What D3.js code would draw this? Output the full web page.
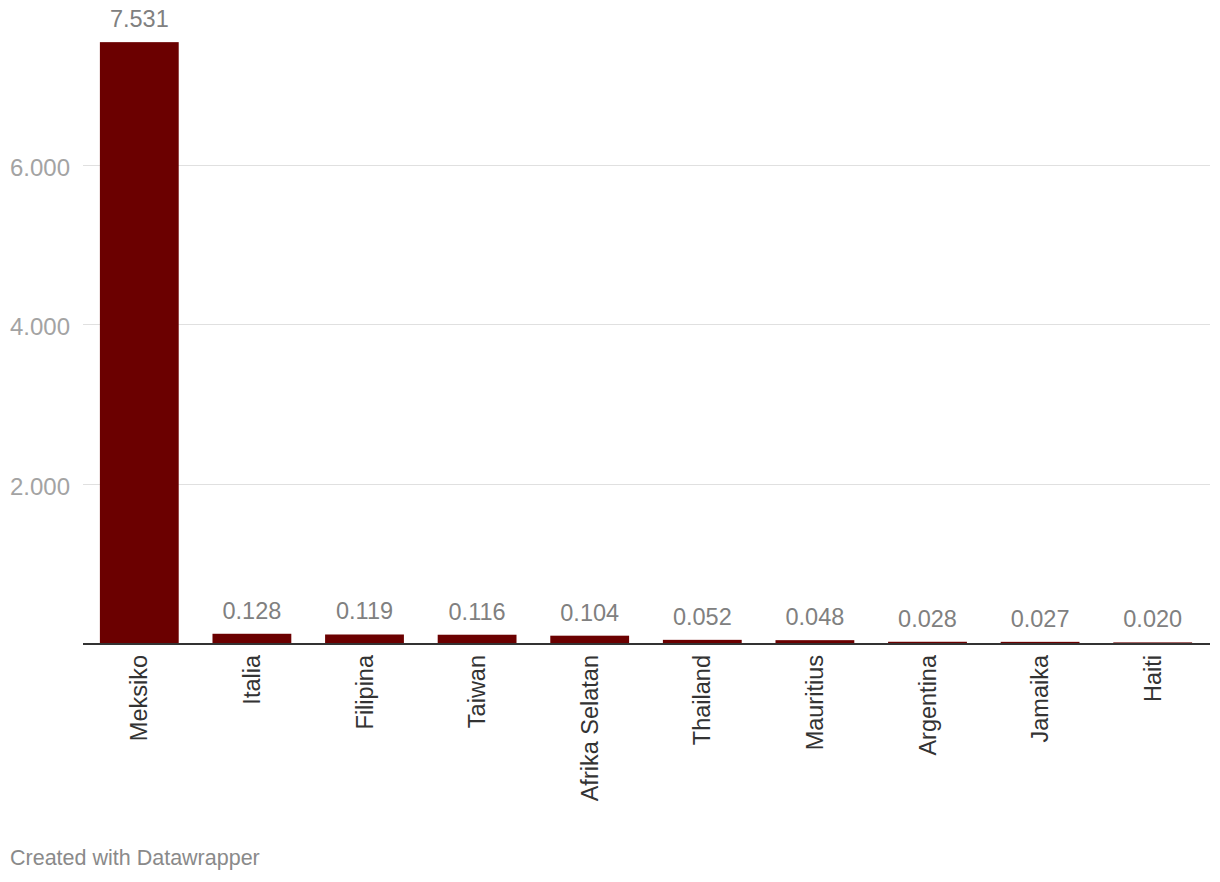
<!DOCTYPE html>
<html>
<head>
<meta charset="utf-8">
<script src="https://cdn.jsdelivr.net/npm/d3@7"></script>
<style>
  html, body { margin: 0; padding: 0; background: #fff; }
  svg { display: block; font-family: "Liberation Sans", Arial, Helvetica, sans-serif; }
</style>
</head>
<body>
<svg id="chart" width="1220" height="882"></svg>
<script>
const categories = ["Meksiko", "Italia", "Filipina", "Taiwan", "Afrika Selatan", "Thailand", "Mauritius", "Argentina", "Jamaika", "Haiti"];
const values = [7.531, 0.128, 0.119, 0.116, 0.104, 0.052, 0.048, 0.028, 0.027, 0.020];
const yTicks = [2, 4, 6];
const footerText = "Created with Datawrapper";

const svg = d3.select("#chart");
const fmt = d3.format(".3f");

const x = d3.scaleBand()
  .domain(categories)
  .range([83, 1209])
  .paddingInner(0.3)
  .paddingOuter(0.15);

const y = d3.scaleLinear()
  .domain([0, 6])
  .range([644, 164.5]);

// gridlines
svg.append("g").selectAll("line")
  .data(yTicks)
  .join("line")
  .attr("x1", 83).attr("x2", 1210)
  .attr("y1", d => Math.round(y(d)) + 0.5)
  .attr("y2", d => Math.round(y(d)) + 0.5)
  .attr("stroke", "#e0e0e0")
  .attr("stroke-width", 1);

// y tick labels
svg.append("g").selectAll("text")
  .data(yTicks)
  .join("text")
  .attr("x", 70)
  .attr("y", d => y(d) + 11)
  .attr("text-anchor", "end")
  .attr("fill", "#a3a3a3")
  .attr("font-size", 24)
  .text(d => fmt(d));

const data = categories.map((c, i) => ({ c, v: values[i] }));

// bars
svg.append("g").selectAll("rect")
  .data(data)
  .join("rect")
  .attr("x", d => x(d.c))
  .attr("width", x.bandwidth())
  .attr("y", d => y(d.v))
  .attr("height", d => y(0) - y(d.v))
  .attr("fill", "#6b0000");

// value labels
svg.append("g").selectAll("text")
  .data(data)
  .join("text")
  .attr("x", d => x(d.c) + x.bandwidth() / 2)
  .attr("y", d => y(d.v) - 15)
  .attr("text-anchor", "middle")
  .attr("fill", "#808080")
  .attr("font-size", 23.5)
  .text(d => fmt(d.v));

// baseline axis
svg.append("line")
  .attr("x1", 83).attr("x2", 1210)
  .attr("y1", y(0)).attr("y2", y(0))
  .attr("stroke", "#333")
  .attr("stroke-width", 2);

// category labels (rotated)
svg.append("g").selectAll("text")
  .data(categories)
  .join("text")
  .attr("transform", d => `translate(${x(d) + x.bandwidth() / 2 + 8},655) rotate(-90)`)
  .attr("text-anchor", "end")
  .attr("fill", "#333")
  .attr("font-size", 23.5)
  .text(d => d);

// footer
svg.append("text")
  .attr("x", 10)
  .attr("y", 865)
  .attr("fill", "#8a8a8a")
  .attr("font-size", 21.5)
  .text(footerText);
</script>
</body>
</html>
